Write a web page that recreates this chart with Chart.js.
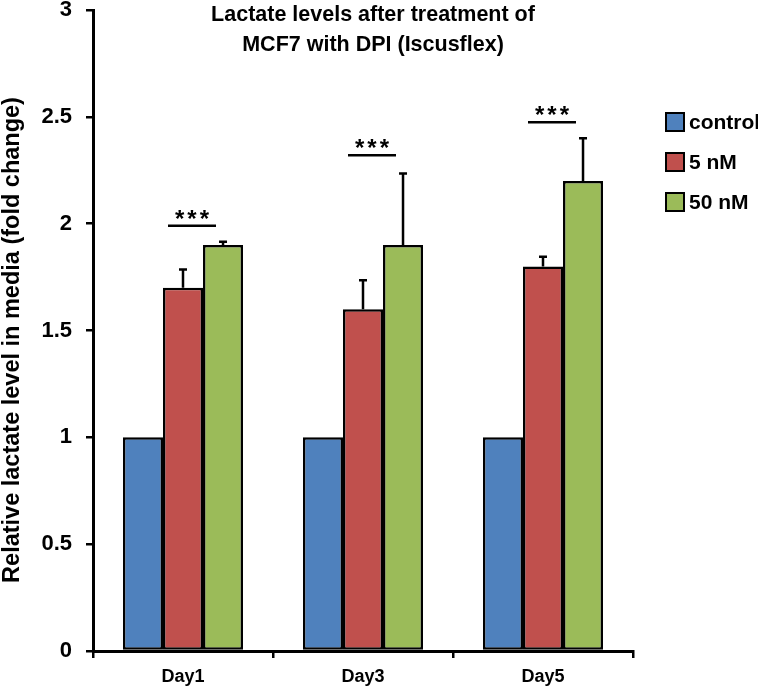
<!DOCTYPE html>
<html>
<head>
<meta charset="utf-8">
<script src="https://cdn.jsdelivr.net/npm/chart.js@4"></script>
<style>
    html, body { margin: 0; padding: 0; background: #fff; }
    #wrap { width: 758px; height: 690px; }
</style>
</head>
<body>
<div id="wrap"><canvas id="lactateChart" width="758" height="690"></canvas></div>
<script>
// Datos del gráfico
const days = ['Day1', 'Day3', 'Day5'];
const seriesNames = ['control', '5 nM', '50 nM'];
const controlValues = [1, 1, 1];
const nm5Values = [1.7, 1.6, 1.8];
const nm50Values = [1.9, 1.9, 2.2];
const nm5Errors = [0.085, 0.135, 0.045];
const nm50Errors = [0.015, 0.335, 0.2];
const sigLevels = [1.99, 2.32, 2.475];
const sigLabels = ['***', '***', '***'];
const yTickValues = [0, 0.5, 1, 1.5, 2, 2.5, 3];
const titleLines = ['Lactate levels after treatment of', 'MCF7 with DPI (Iscusflex)'];
const yTitle = 'Relative lactate level in media (fold change)';

const colors = ['#4F81BD', '#C0504D', '#9BBB59'];
const errorsBySeries = [null, nm5Errors, nm50Errors];
const font = '"Liberation Sans", Arial, sans-serif';

// Barras de error, marcas de significancia, título y leyenda
const extrasPlugin = {
    id: 'extras',
    afterDatasetsDraw(chart) {
        const ctx = chart.ctx;
        const yScale = chart.scales.y;
        const xScale = chart.scales.x;
        ctx.save();
        ctx.strokeStyle = '#000';
        ctx.lineWidth = 2.5;
        errorsBySeries.forEach((errs, di) => {
            if (!errs) return;
            const meta = chart.getDatasetMeta(di);
            meta.data.forEach((bar, i) => {
                const v = chart.data.datasets[di].data[i];
                const yTop = yScale.getPixelForValue(v + errs[i]);
                ctx.beginPath();
                ctx.moveTo(bar.x, bar.y);
                ctx.lineTo(bar.x, yTop);
                ctx.moveTo(bar.x - 4, yTop);
                ctx.lineTo(bar.x + 4, yTop);
                ctx.stroke();
            });
        });

        // significancia
        ctx.fillStyle = '#000';
        ctx.textAlign = 'center';
        ctx.textBaseline = 'alphabetic';
        ctx.font = 'bold 24px ' + font;
        ctx.letterSpacing = '3px';
        sigLevels.forEach((lvl, i) => {
            const cx = xScale.getPixelForValue(i) + 9;
            const y = yScale.getPixelForValue(lvl);
            ctx.beginPath();
            ctx.moveTo(cx - 24, y);
            ctx.lineTo(cx + 24, y);
            ctx.stroke();
            ctx.fillText(sigLabels[i], cx + 1.5, y + 1);
        });
        ctx.restore();
    },
    afterDraw(chart) {
        const ctx = chart.ctx;
        ctx.save();
        ctx.fillStyle = '#000';
        // título
        ctx.font = 'bold 21.5px ' + font;
        ctx.textAlign = 'center';
        ctx.textBaseline = 'middle';
        ctx.fillText(titleLines[0], 373, 15);
        ctx.fillText(titleLines[1], 373, 45);

        // título del eje Y
        ctx.save();
        ctx.translate(13, 340);
        ctx.rotate(-Math.PI / 2);
        ctx.font = 'bold 23.5px ' + font;
        ctx.fillText(yTitle, 0, 0);
        ctx.restore();

        // leyenda
        const legendY = [122, 162, 202];
        ctx.textAlign = 'left';
        ctx.font = 'bold 21px ' + font;
        chart.data.datasets.forEach((ds, i) => {
            ctx.fillStyle = ds.backgroundColor;
            ctx.fillRect(666, legendY[i] - 9, 18, 18);
            ctx.strokeStyle = '#000';
            ctx.lineWidth = 2;
            ctx.strokeRect(666, legendY[i] - 9, 18, 18);
            ctx.fillStyle = '#000';
            ctx.fillText(ds.label, 689, legendY[i] + 1);
        });
        ctx.restore();
    }
};

function makeDataset(idx, values) {
    return {
        label: seriesNames[idx],
        data: values,
        backgroundColor: colors[idx],
        borderColor: '#000',
        borderWidth: 2.5,
        borderSkipped: false,
        categoryPercentage: 0.667,
        barPercentage: 1.0
    };
}

new Chart(document.getElementById('lactateChart').getContext('2d'), {
    type: 'bar',
    data: {
        labels: days,
        datasets: [
            makeDataset(0, controlValues),
            makeDataset(1, nm5Values),
            makeDataset(2, nm50Values)
        ]
    },
    options: {
        responsive: false,
        animation: false,
        layout: { padding: { top: 10, right: 125, left: 0, bottom: 0 } },
        plugins: {
            legend: { display: false },
            title: { display: false },
            tooltip: { enabled: false }
        },
        scales: {
            x: {
                offset: true,
                grid: { display: true, drawOnChartArea: false, offset: true, color: '#000', lineWidth: 2.5, tickLength: 7 },
                border: { display: true, color: '#000', width: 3 },
                ticks: { color: '#000', font: { family: font, size: 18, weight: 'bold' }, padding: 8 },
                afterFit(scale) {
                    scale.height = 39;
                    scale.paddingLeft = 0;
                    scale.paddingRight = 0;
                }
            },
            y: {
                min: 0,
                max: 3,
                afterBuildTicks(scale) { scale.ticks = yTickValues.map(v => ({ value: v })); },
                grid: { display: true, drawOnChartArea: false, color: '#000', lineWidth: 2.5, tickLength: 7 },
                border: { display: true, color: '#000', width: 3 },
                ticks: { color: '#000', font: { family: font, size: 22, weight: 'bold' }, padding: 14,
                         callback: v => String(v) },
                afterFit(scale) {
                    scale.width = 93;
                    scale.paddingTop = 0;
                    scale.paddingBottom = 0;
                }
            }
        }
    },
    plugins: [extrasPlugin]
});
</script>
</body>
</html>
